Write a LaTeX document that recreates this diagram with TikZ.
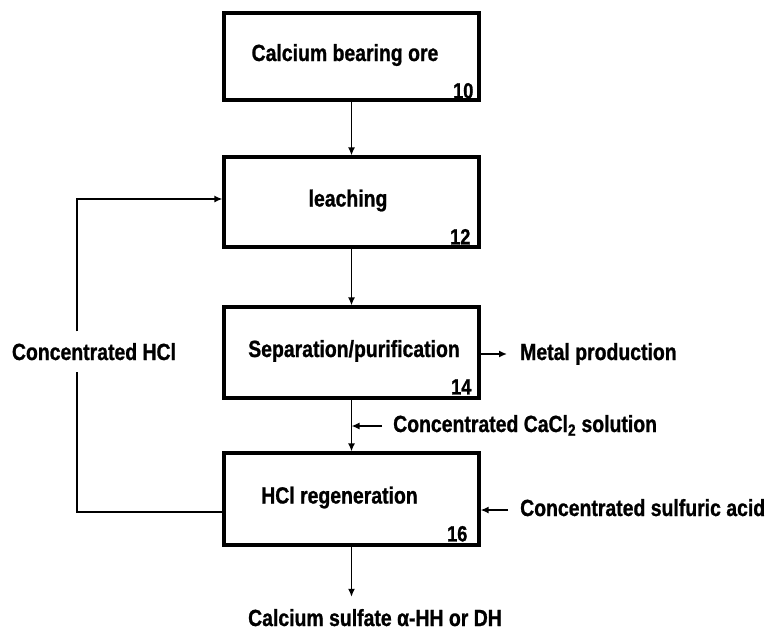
\documentclass[tikz,border=0pt]{standalone}
\usepackage{fontspec}
\newfontfamily\lab{Liberation Sans}[FakeStretch=0.83, BoldFeatures={FakeBold=1}]
\usetikzlibrary{arrows.meta}
\begin{document}
\begin{tikzpicture}[x=1pt,y=-1pt,
  box/.style={draw=black, line width=3.2pt, minimum width=255pt, inner sep=0pt,
    text height=17pt, text depth=8pt, font=\lab\bfseries\fontsize{23.4}{26}\selectfont},
  num/.style={anchor=south east, inner sep=0pt, text height=15.8pt, text depth=0pt,
    font=\lab\bfseries\fontsize{22}{24}\selectfont},
  lbl/.style={inner ysep=0pt, text height=17pt, text depth=5pt,
    font=\lab\bfseries\fontsize{23.4}{26}\selectfont},
  conn/.style={line width=1.5pt, draw=black},
  arr/.style={conn, -{Latex[length=8pt,width=7pt]}}
]
\fill[white] (0,0) rectangle (767,630);
\useasboundingbox (0,0) rectangle (767,630);

% process boxes
\node[box, minimum height=87pt] (b10) at (351.5,56.5) {Calcium bearing ore\hspace*{13pt}};
\node[box, minimum height=90pt] (b12) at (351.5,202) {leaching\hspace*{7pt}};
\node[box, minimum height=91pt] (b14) at (351.5,352.5) {\hspace*{5pt}Separation/purification};
\node[box, minimum height=92pt] (b16) at (351.5,499) {HCl regeneration\hspace*{24pt}};

% reference numbers
\node[num] (n10) at ([xshift=-7pt,yshift=3pt]b10.south east) {10};
\node[num] (n12) at ([xshift=-10pt,yshift=4pt]b12.south east) {12};
\node[num] (n14) at ([xshift=-9pt,yshift=5pt]b14.south east) {14};
\node[num] (n16) at ([xshift=-13pt,yshift=5pt]b16.south east) {16};

% main flow
\draw[arr] (b10) -- (b12);
\draw[arr] (b12) -- (b14);
\draw[arr] (b14) -- (b16);

% side streams
\node[lbl, anchor=west, inner xsep=11pt] (cacl) at (382,426) {Concentrated CaCl\textsubscript{2} solution};
\draw[arr] (cacl.west) -- (cacl.west -| b14.south);

\node[lbl, anchor=west, inner xsep=13pt] (metal) at (507,354) {Metal production};
\draw[arr] (b14.east |- metal.west) -- (metal.west);

\node[lbl, anchor=west, inner xsep=12pt] (sulf) at (508,510) {Concentrated sulfuric acid};
\draw[arr] (sulf.west) -- (sulf.west -| b16.east);

\node[lbl, inner xsep=0pt, inner ysep=12pt, text depth=0pt] (csul) at (375,617.5) {Calcium sulfate α-HH or DH};
\draw[arr] (b16.south) -- (b16.south |- csul.north);

% recycle loop
\node[lbl, text depth=0pt, inner xsep=0pt, inner ysep=11.5pt] (hcl) at (94,351.5) {Concentrated HCl};
\coordinate (fbB) at (77,512);
\coordinate (fbT) at (77,199);
\draw[conn] (b16.west |- fbB) -- (fbB) -- (fbB |- hcl.south);
\draw[arr] (fbT |- hcl.north) -- (fbT) -- (b12.west |- fbT);
\end{tikzpicture}
\end{document}
